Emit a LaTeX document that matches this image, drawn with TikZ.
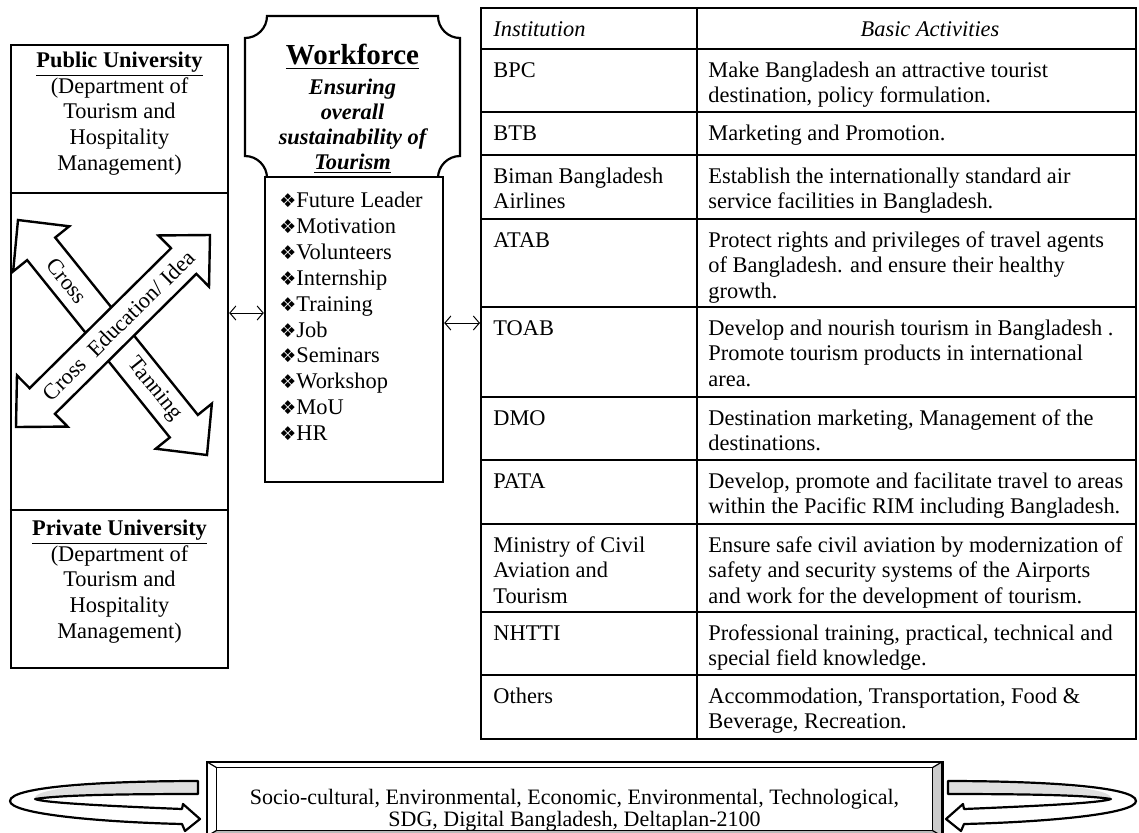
\documentclass[tikz,border=0pt]{standalone}
\usepackage{fontspec}
\setmainfont{Liberation Serif}
\newfontfamily\symfont{DejaVu Sans}
\usetikzlibrary{calc,arrows.meta}

% small diamond bullet of the workforce list
\newcommand{\itm}{{\symfont\fontsize{9.5}{9.5}\selectfont ❖}}

% double headed block arrow between two named coordinates
\newcommand{\bigdarrow}[2]{%
  \draw[bigarrow] (#1)
    -- ($(#1)!18.5pt!(#2)!18pt!90:(#2)$)
    -- ($(#1)!18.5pt!(#2)!9pt!90:(#2)$)
    -- ($(#2)!18.5pt!(#1)!9pt!-90:(#1)$)
    -- ($(#2)!18.5pt!(#1)!18pt!-90:(#1)$)
    -- (#2)
    -- ($(#2)!18.5pt!(#1)!18pt!90:(#1)$)
    -- ($(#2)!18.5pt!(#1)!9pt!90:(#1)$)
    -- ($(#1)!18.5pt!(#2)!9pt!-90:(#2)$)
    -- ($(#1)!18.5pt!(#2)!18pt!-90:(#2)$)
    -- cycle;}

% curled ribbon arrow beside the banner
\newcommand{\ribbonarrow}{%
  \fill[gray!25] (198,781) .. controls (110,781) and (30,788) .. (35,799)
    .. controls (60,795) and (120,794) .. (198,794) -- cycle;
  \draw[ribbon] (198,781) .. controls (110,781) and (10,786) .. (10,801)
    .. controls (10,814) and (100,822) .. (182,824)
    -- (185,831) -- (200,819) -- (183,804) -- (182,809)
    .. controls (110,806) and (45,803) .. (35,799)
    .. controls (60,795) and (120,794) .. (198,794) -- cycle;}

\tikzset{
  boxline/.style={draw, line width=1.2pt},
  tabline/.style={line width=1pt},
  link/.style={{Straight Barb[length=3pt,width=7pt]}-{Straight Barb[length=3pt,width=7pt]}, line width=0.5pt},
  bigarrow/.style={draw, fill=white, line width=1.2pt, line join=miter},
  cell/.style={anchor=north west, align=left},
  ribbon/.style={draw, line width=1.1pt, line join=round}
}

\begin{document}
\begin{tikzpicture}[x=0.5pt, y=-0.5pt,
  every node/.style={inner sep=0pt, font=\fontsize{11.2}{12.75}\selectfont}]
  \useasboundingbox (0,0) rectangle (1139,832);

  % Universities box
  \node (leftbox) [boxline, fill=white, minimum width=108.5pt, minimum height=311.5pt] at (119.5,356.5) {};
  \coordinate (divtop) at (0,193);
  \coordinate (divbot) at (0,510);
  \draw[boxline] (leftbox.west |- divtop) -- (leftbox.east |- divtop);
  \draw[boxline] (leftbox.west |- divbot) -- (leftbox.east |- divbot);
  \node (pubtxt) [align=center, font=\fontsize{11.2}{12.85}\selectfont] at (119.5,113.5)
    {\underline{\textbf{Public University}}\\(Department of\\Tourism and\\Hospitality\\Management)};
  \node (privtxt) [align=center, font=\fontsize{11.2}{12.85}\selectfont] at (119.5,581.5)
    {\underline{\textbf{Private University}}\\(Department of\\Tourism and\\Hospitality\\Management)};

  % Crossing arrows
  \coordinate (trnA) at (18,220);
  \coordinate (trnB) at (207,455);
  \coordinate (eduA) at (16,427);
  \coordinate (eduB) at (210,235);
  \bigdarrow{trnA}{trnB}
  \path (trnA) -- (trnB) node[pos=0.26, sloped] (crosslbl) {Cross}
    node[pos=0.72, sloped] (tanlbl) {Tanning};
  \bigdarrow{eduA}{eduB}
  \path (eduA) -- (eduB) node[pos=0.53, sloped] (edulbl) {Cross\ \ Education/ Idea};

  % Workforce plaque
  \draw[line width=1.1pt, fill=white] (245,38) .. controls (257.1,38) and (267,28.1) .. (267,16)
    -- (438,16) .. controls (438,28.1) and (447.9,38) .. (460,38)
    -- (460,156) .. controls (447.9,156) and (438,165.9) .. (438,178)
    -- (267,178) .. controls (267,165.9) and (257.1,156) .. (245,156) -- cycle;
  \node (wftitle) [font=\fontsize{14.5}{16}\selectfont\bfseries] at (352.5,57) {\underline{Workforce}};
  \node (wfsub) [align=center, font=\fontsize{11.2}{12.5}\selectfont\bfseries\itshape] at (352.5,126)
    {Ensuring\\overall\\sustainability of\\\underline{Tourism}};

  % Workforce list
  \node (skills) [boxline, fill=white, minimum width=89pt, minimum height=152.5pt] at (354,329.5) {};
  \node (skilltxt) [anchor=north west, align=left, font=\fontsize{11.2}{12.95}\selectfont] at (279,189)
    {\strut\itm Future Leader\\\itm Motivation\\\itm Volunteers\\\itm Internship\\\itm Training\\
     \itm Job\\\itm Seminars\\\itm Workshop\\\itm MoU\\\itm HR};

  % Institution table
  \node (tab) [draw, tabline, minimum width=327.5pt, minimum height=365.5pt] at (808.5,373.5) {};
  \draw[tabline] (697,8) -- (697,739);
  \foreach \y in {49,112,155,219,307,397,460,524,612,675}
    \draw[tabline] (481,\y) -- (1136,\y);
  \node (insthead) [cell] at (493,18) {\strut\textit{Institution}};
  \node (acthead) [anchor=north] at (930,18) {\strut\textit{Basic Activities}};
  \node (inst1) [cell] at (493,59) {\strut BPC};
  \node (act1) [cell] at (708,59) {\strut Make Bangladesh an attractive tourist\\destination, policy formulation.};
  \node (inst2) [cell] at (493,122) {\strut BTB};
  \node (act2) [cell] at (708,122) {\strut Marketing and Promotion.};
  \node (inst3) [cell] at (493,165) {\strut Biman Bangladesh\\Airlines};
  \node (act3) [cell] at (708,165) {\strut Establish the internationally standard air\\service facilities in Bangladesh.};
  \node (inst4) [cell] at (493,229) {\strut ATAB};
  \node (act4) [cell] at (708,229) {\strut Protect rights and privileges of travel agents\\of Bangladesh. and ensure their healthy\\growth.};
  \node (inst5) [cell] at (493,317) {\strut TOAB};
  \node (act5) [cell] at (708,317) {\strut Develop and nourish tourism in Bangladesh .\\Promote tourism products in international\\area.};
  \node (inst6) [cell] at (493,407) {\strut DMO};
  \node (act6) [cell] at (708,407) {\strut Destination marketing, Management of the\\destinations.};
  \node (inst7) [cell] at (493,470) {\strut PATA};
  \node (act7) [cell] at (708,470) {\strut Develop, promote and facilitate travel to areas\\within the Pacific RIM including Bangladesh.};
  \node (inst8) [cell] at (493,534) {\strut Ministry of Civil\\Aviation and\\Tourism};
  \node (act8) [cell] at (708,534) {\strut Ensure safe civil aviation by modernization of\\safety and security systems of the Airports\\and work for the development of tourism.};
  \node (inst9) [cell] at (493,622) {\strut NHTTI};
  \node (act9) [cell] at (708,622) {\strut Professional training, practical, technical and\\special field knowledge.};
  \node (inst10) [cell] at (493,685) {\strut Others};
  \node (act10) [cell] at (708,685) {\strut Accommodation, Transportation, Food \&\\Beverage, Recreation.};

  % Links
  \coordinate (lk) at (0,313);
  \coordinate (rk) at (0,323);
  \draw[link] (leftbox.east |- lk) -- (skills.west |- lk);
  \draw[link] (skills.east |- rk) -- (tab.west |- rk);

  % Bottom banner
  \node (banner) [minimum width=367.5pt, minimum height=37pt] at (574.5,799) {};
  \fill[gray!40] (banner.north east) -- (banner.south east) -- ++(-10,-6)
    -- ($(banner.north east)+(-10,6)$) -- cycle;
  \fill[gray!55] (banner.south west) -- (banner.south east) -- ++(-10,-6)
    -- ($(banner.south west)+(10,-6)$) -- cycle;
  \draw[line width=1.1pt] (banner.north west) rectangle (banner.south east);
  \draw[line width=0.8pt] ($(banner.north west)+(10,6)$) rectangle ($(banner.south east)+(-10,-6)$);
  \draw[line width=0.6pt] (banner.north west) -- ++(10,6);
  \draw[line width=0.6pt] (banner.north east) -- ++(-10,6);
  \draw[line width=0.6pt] (banner.south west) -- ++(10,-6);
  \draw[line width=0.6pt] (banner.south east) -- ++(-10,-6);
  \node (bannertxt) [align=center, font=\fontsize{11}{10.75}\selectfont] at (574.5,810)
    {Socio-cultural, Environmental, Economic, Environmental, Technological,\\SDG, Digital Bangladesh, Deltaplan-2100};

  % Ribbon arrows
  \ribbonarrow
  \begin{scope}[shift={(1146,0)}, xscale=-1]
    \ribbonarrow
  \end{scope}
\end{tikzpicture}
\end{document}
